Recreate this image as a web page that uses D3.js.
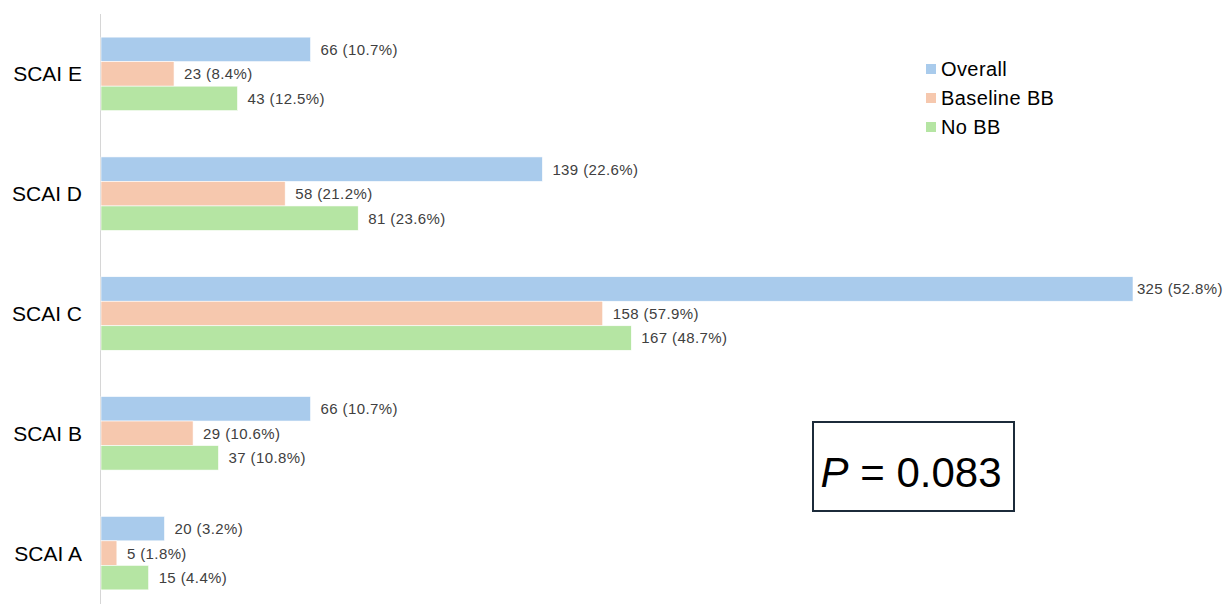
<!DOCTYPE html>
<html>
<head>
<meta charset="utf-8">
<script src="https://cdn.jsdelivr.net/npm/d3@7"></script>
<style>
  html, body { margin: 0; padding: 0; background: #fff; }
  svg { display: block; font-family: "Liberation Sans", Arial, Helvetica, sans-serif; }
</style>
</head>
<body>
<svg id="chart" width="1230" height="604"></svg>
<script>
// SCAI shock stage distribution, top to bottom
const categories = ["SCAI E", "SCAI D", "SCAI C", "SCAI B", "SCAI A"];
const seriesNames = ["Overall", "Baseline BB", "No BB"];
const overallCounts  = [66, 139, 325, 66, 20];
const overallPct     = [10.7, 22.6, 52.8, 10.7, 3.2];
const baselineCounts = [23, 58, 158, 29, 5];
const baselinePct    = [8.4, 21.2, 57.9, 10.6, 1.8];
const noBBCounts     = [43, 81, 167, 37, 15];
const noBBPct        = [12.5, 23.6, 48.7, 10.8, 4.4];
const colors = ["#a9cbec", "#f6c8ae", "#b5e5a3"];
const pValueText = "0.083";

const counts = [overallCounts, baselineCounts, noBBCounts];
const pcts = [overallPct, baselinePct, noBBPct];

const rows = [];
categories.forEach((c, i) => {
  seriesNames.forEach((s, j) => {
    rows.push({ cat: c, series: s, idx: j, n: counts[j][i], pct: pcts[j][i] });
  });
});

const W = 1230, H = 604;
const svg = d3.select("#chart");

const x = d3.scaleLinear().domain([0, 325]).range([101, 1133]);
const y = d3.scaleBand().domain(categories).range([14, 613])
  .paddingInner(0.386).paddingOuter(0.193);
const ySub = d3.scaleBand().domain(seriesNames).range([0, y.bandwidth()]);
const color = d3.scaleOrdinal().domain(seriesNames).range(colors);

// vertical category axis line
svg.append("line")
  .attr("x1", 100.5).attr("x2", 100.5)
  .attr("y1", 14).attr("y2", H)
  .attr("stroke", "#d6d6d6").attr("stroke-width", 1);

// bars
svg.append("g").selectAll("rect").data(rows).join("rect")
  .attr("x", x(0))
  .attr("y", d => y(d.cat) + ySub(d.series))
  .attr("width", d => x(d.n) - x(0))
  .attr("height", ySub.bandwidth())
  .attr("fill", d => color(d.series))
  .attr("stroke", "#ffffff")
  .attr("stroke-width", 0.6);

// value labels, kept inside the right edge
const labels = svg.append("g").selectAll("text").data(rows).join("text")
  .attr("y", d => y(d.cat) + ySub(d.series) + ySub.bandwidth() / 2)
  .attr("dy", "0.36em")
  .attr("font-size", 15)
  .attr("letter-spacing", 0.4)
  .attr("fill", "#404040")
  .text(d => `${d.n} (${d.pct.toFixed(1)}%)`);
labels.each(function(d) {
  const w = this.getComputedTextLength();
  const px = Math.min(x(d.n) + 10, W - w - 7);
  d3.select(this).attr("x", Math.max(px, x(d.n) + 3));
});

// category labels
svg.append("g").selectAll("text").data(categories).join("text")
  .attr("x", 82)
  .attr("y", d => y(d) + y.bandwidth() / 2)
  .attr("dy", "0.36em")
  .attr("text-anchor", "end")
  .attr("font-size", 21)
  .attr("fill", "#000")
  .text(d => d);

// legend
const legend = svg.append("g").attr("transform", "translate(926,69)");
const li = legend.selectAll("g").data(seriesNames).join("g")
  .attr("transform", (d, i) => `translate(0,${i * 29})`);
li.append("rect")
  .attr("x", 0).attr("y", -5).attr("width", 10).attr("height", 10)
  .attr("fill", d => color(d));
li.append("text")
  .attr("x", 15).attr("y", 0).attr("dy", "0.36em")
  .attr("font-size", 20).attr("letter-spacing", 0.4).attr("fill", "#000")
  .text(d => d);

// P-value box
svg.append("rect")
  .attr("x", 813).attr("y", 422).attr("width", 201).attr("height", 89)
  .attr("fill", "#fff").attr("stroke", "#1c2b3a").attr("stroke-width", 2);
const pt = svg.append("text")
  .attr("x", 911).attr("y", 487)
  .attr("text-anchor", "middle")
  .attr("font-size", 42).attr("fill", "#000");
pt.append("tspan").attr("font-style", "italic").text("P");
pt.append("tspan").text(" = " + pValueText);
</script>
</body>
</html>
